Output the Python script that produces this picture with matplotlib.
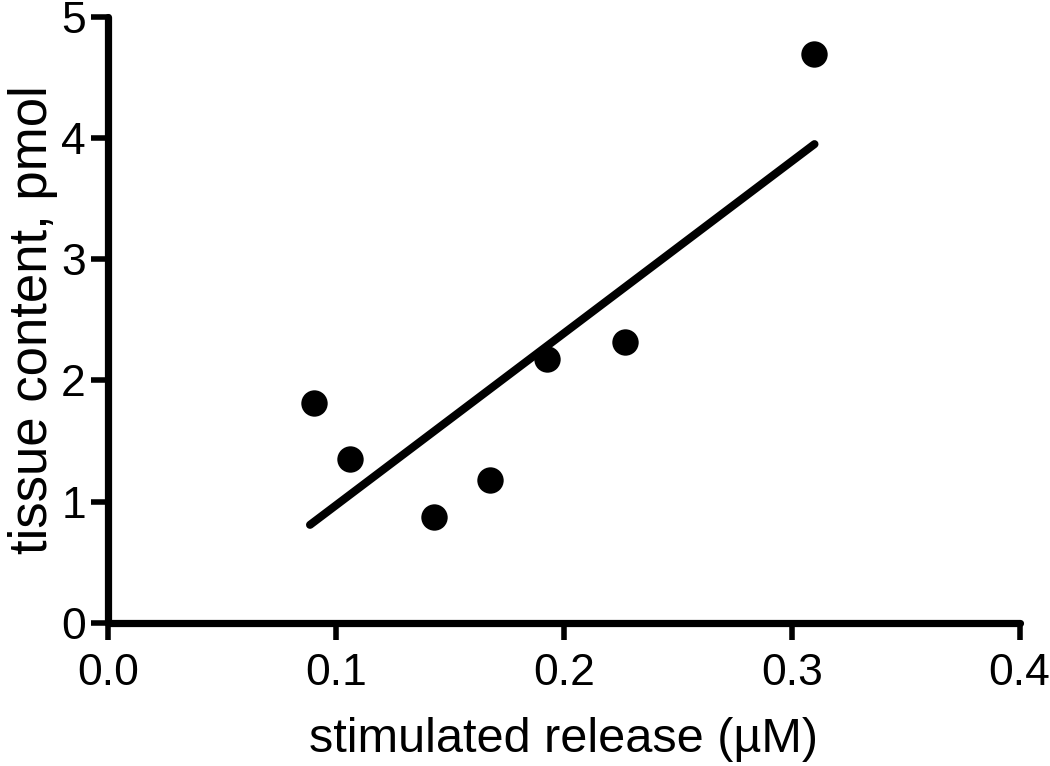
import matplotlib
matplotlib.use("Agg")
import matplotlib.pyplot as plt
import numpy as np

# values
release = [0.0904, 0.106, 0.143, 0.1675, 0.1925, 0.227, 0.310]
content = [1.81, 1.35, 0.87, 1.18, 2.18, 2.32, 4.69]
xticks = [0.0, 0.1, 0.2, 0.3, 0.4]
yticks = [0, 1, 2, 3, 4, 5]

plt.rcParams["font.family"] = ["Liberation Sans", "DejaVu Sans"]

fig = plt.figure(figsize=(10.5, 7.66), dpi=100)
ax = fig.add_axes([0.103, 0.187, 0.868, 0.791])

# linear fit over the data range
slope, intercept = np.polyfit(release, content, 1)
xs = np.array([min(release) - 0.0018, max(release)])
ax.plot(xs, slope * xs + intercept, color="black", lw=5.8, solid_capstyle="round")

ax.plot(release, content, "o", color="black", ms=19, mew=0)

ax.set_xlim(0, 0.4)
ax.set_ylim(0, 5)
ax.set_xticks(xticks)
ax.set_xticklabels(["%.1f" % t for t in xticks])
ax.set_yticks(yticks)

for side in ("top", "right"):
    ax.spines[side].set_visible(False)
for side in ("left", "bottom"):
    ax.spines[side].set_linewidth(5.2)
    ax.spines[side].set_capstyle("round")

ax.tick_params(direction="out", length=12, width=4, labelsize=32)
ax.tick_params(axis="x", pad=10)
ax.tick_params(axis="y", pad=4)
ax.set_xlabel("stimulated release (\u00b5M)", fontsize=35, labelpad=16)
ax.set_ylabel("tissue content, pmol", fontsize=38, labelpad=2)

fig.savefig("out.png", dpi=100)
